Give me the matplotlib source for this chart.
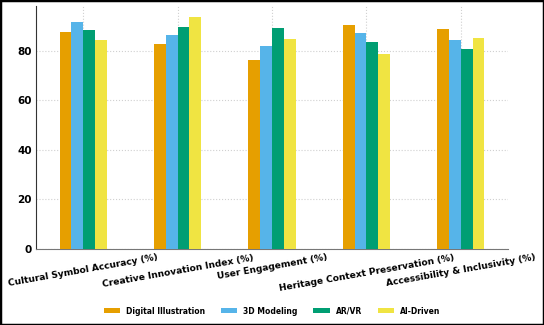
import numpy as np
import matplotlib.pyplot as plt
from matplotlib.patches import Rectangle

categories = ['Cultural Symbol Accuracy (%)', 'Creative Innovation Index (%)',
              'User Engagement (%)', 'Heritage Context Preservation (%)',
              'Accessibility & Inclusivity (%)']
series_names = ['Digital Illustration', '3D Modeling', 'AR/VR', 'AI-Driven']
digital = [87.3, 82.7, 76.2, 90.4, 88.8]
modeling = [91.6, 86.1, 81.7, 87.0, 84.3]
arvr = [88.4, 89.4, 89.0, 83.6, 80.7]
ai_driven = [84.3, 93.5, 84.6, 78.6, 85.1]
colors = ['#E69F00', '#56B4E9', '#009E73', '#F0E442']

fig = plt.figure(figsize=(5.44, 3.25), dpi=100)
ax = fig.add_axes([0.066, 0.234, 0.868, 0.748])

x = np.arange(len(categories))
w = 0.125
for i, (vals, name) in enumerate(zip([digital, modeling, arvr, ai_driven], series_names)):
    ax.bar(x + (i - 1.5) * w, vals, width=w, color=colors[i], label=name, zorder=3)

ax.set_xlim(-0.5, 4.5)
ax.set_ylim(0, 98)
ax.set_yticks([0, 20, 40, 60, 80])
ax.set_xticks(x)
ax.set_xticklabels(categories, rotation=10, ha='center', fontsize=6.6, fontweight='bold')
for lab in ax.get_yticklabels():
    lab.set_fontweight('bold')
    lab.set_fontsize(7.5)
ax.grid(True, linestyle=':', color='#d0d0d0', linewidth=0.8, zorder=0)
ax.spines['top'].set_visible(False)
ax.spines['right'].set_visible(False)
ax.spines['left'].set_color('#333333')
ax.spines['bottom'].set_color('#777777')
ax.tick_params(length=0, pad=3)

fig.legend(loc='center', ncol=4, frameon=False, bbox_to_anchor=(0.5, 1 - 311 / 325),
           prop={'size': 5.5, 'weight': 'bold'}, handlelength=2.1, handleheight=0.65,
           handletextpad=0.8, columnspacing=2.1)

fig.patches.append(Rectangle((0, 0), 1, 1, transform=fig.transFigure, fill=False,
                             edgecolor='black', linewidth=2.5))
fig.savefig('out.png', dpi=100)
